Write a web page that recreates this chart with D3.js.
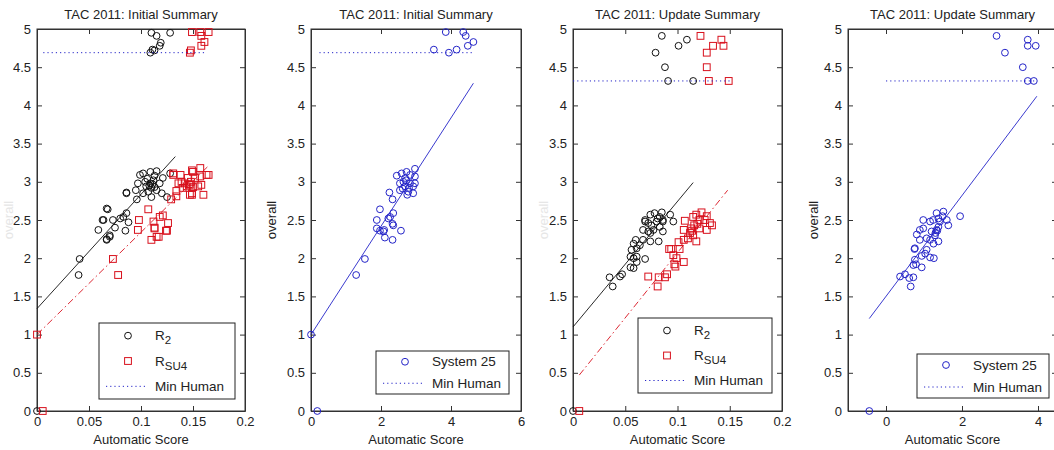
<!DOCTYPE html>
<html>
<head>
<meta charset="utf-8">
<script src="https://cdn.jsdelivr.net/npm/d3@7"></script>
<style>
  body { margin: 0; background: #fff; }
  svg text { font-family: "Liberation Sans", Arial, sans-serif; fill: #222; }
</style>
</head>
<body>
<svg id="chart" width="1054" height="450"></svg>
<script>
// ---- data ----
const yTicks = [0, 0.5, 1, 1.5, 2, 2.5, 3, 3.5, 4, 4.5, 5];

// initial summary, ROUGE-2 vs overall
const init_r2 = [
  [0, 0], [0.041, 1.99], [0.040, 1.78], [0.059, 2.37], [0.064, 2.50], [0.068, 2.64], [0.067, 2.25],
  [0.070, 2.30], [0.073, 2.50], [0.075, 2.40], [0.080, 2.52], [0.083, 2.54], [0.086, 2.59],
  [0.088, 2.47], [0.085, 2.36], [0.067, 2.24], [0.070, 2.28], [0.063, 2.50], [0.067, 2.65],
  [0.086, 2.86], [0.096, 2.77], [0.095, 2.89], [0.099, 3.09], [0.102, 3.11], [0.109, 3.13],
  [0.115, 3.14], [0.097, 2.98], [0.104, 3.00], [0.105, 2.94], [0.109, 2.98], [0.112, 3.02],
  [0.110, 2.92], [0.115, 2.89], [0.118, 2.98], [0.107, 2.87], [0.102, 2.85], [0.121, 3.05],
  [0.128, 3.11], [0.125, 2.80], [0.120, 2.85], [0.110, 2.80], [0.086, 2.85], [0.108, 2.95],
  [0.111, 2.97], [0.113, 2.93], [0.106, 3.04], [0.113, 3.08],
  [0.110, 4.95], [0.115, 4.91], [0.128, 4.95], [0.119, 4.82], [0.118, 4.78], [0.111, 4.73],
  [0.109, 4.69], [0.113, 4.72]
];
// initial summary, ROUGE-SU4 vs overall
const init_rsu4 = [
  [0.0055, 0], [0, 1.0], [0.073, 1.99], [0.078, 1.78], [0.097, 2.37], [0.110, 2.24], [0.115, 2.28],
  [0.124, 2.36], [0.113, 2.40], [0.107, 2.64], [0.098, 2.50], [0.112, 2.48], [0.118, 2.54],
  [0.121, 2.56], [0.126, 2.46], [0.113, 2.39], [0.125, 2.36], [0.117, 2.28],
  [0.129, 2.77], [0.134, 2.88], [0.131, 3.09], [0.138, 3.09], [0.139, 3.00], [0.142, 2.98],
  [0.144, 2.94], [0.147, 2.96], [0.140, 2.92], [0.149, 2.85], [0.147, 2.83], [0.157, 3.18],
  [0.163, 3.09], [0.160, 2.83], [0.150, 3.13], [0.152, 3.05], [0.145, 3.05], [0.157, 3.07],
  [0.155, 2.94], [0.136, 2.98], [0.134, 2.81], [0.165, 3.09], [0.149, 3.15], [0.131, 3.11],
  [0.158, 2.96], [0.149, 2.83], [0.146, 2.97], [0.148, 3.00], [0.150, 2.93],
  [0.149, 4.96], [0.157, 4.96], [0.165, 4.96], [0.158, 4.91], [0.161, 4.83], [0.158, 4.78],
  [0.148, 4.72], [0.147, 4.69]
];
// initial summary, system 25 score vs overall
const init_s25 = [
  [0, 1.0], [0.18, 0], [1.29, 1.78], [1.54, 1.99], [1.88, 2.39], [1.97, 2.36], [2.09, 2.37],
  [2.11, 2.27], [2.33, 2.24], [2.57, 2.36], [2.35, 2.43], [1.88, 2.50], [1.97, 2.64],
  [2.21, 2.52], [2.26, 2.54], [2.35, 2.59], [2.33, 2.45], [2.07, 2.35], [2.24, 2.86],
  [2.33, 2.77], [2.45, 3.08], [2.59, 3.11], [2.73, 3.13], [2.97, 3.17], [2.54, 2.98],
  [2.64, 3.00], [2.54, 2.89], [2.69, 2.94], [2.83, 2.98], [2.92, 2.94], [2.78, 2.87],
  [2.92, 2.85], [2.97, 2.98], [2.97, 3.07], [2.83, 3.09], [2.69, 3.05], [2.75, 2.83],
  [2.80, 2.92], [2.72, 3.02], [2.62, 2.91],
  [3.51, 4.73], [3.85, 4.96], [3.94, 4.69], [4.16, 4.73], [4.35, 4.96], [4.42, 4.91],
  [4.48, 4.78], [4.64, 4.83]
];

// update summary, ROUGE-2 vs overall
const upd_r2 = [
  [0, 0], [0.035, 1.75], [0.038, 1.63], [0.045, 1.76], [0.047, 1.79], [0.055, 1.88], [0.058, 1.87],
  [0.055, 2.02], [0.056, 2.11], [0.058, 2.19], [0.061, 2.13], [0.061, 1.95], [0.069, 1.99],
  [0.067, 2.24], [0.060, 2.24], [0.072, 2.35], [0.069, 2.48], [0.074, 2.57], [0.078, 2.59],
  [0.083, 2.54], [0.086, 2.48], [0.072, 2.46], [0.075, 2.43], [0.077, 2.37], [0.074, 2.33],
  [0.083, 2.41], [0.086, 2.35], [0.082, 2.22], [0.074, 2.22], [0.067, 2.37], [0.080, 2.48],
  [0.069, 2.50], [0.085, 2.60], [0.081, 2.52], [0.093, 2.57], [0.096, 2.48], [0.086, 2.50],
  [0.064, 2.17], [0.061, 2.02], [0.058, 2.00],
  [0.079, 4.69], [0.085, 4.91], [0.088, 4.50], [0.091, 4.32], [0.101, 4.78], [0.109, 4.86],
  [0.115, 4.32]
];
// update summary, ROUGE-SU4 vs overall
const upd_rsu4 = [
  [0.006, 0], [0.072, 1.76], [0.082, 1.75], [0.081, 1.63], [0.088, 1.75], [0.090, 1.79],
  [0.092, 2.12], [0.094, 2.12], [0.097, 1.92], [0.098, 1.89], [0.099, 2.00], [0.101, 2.21],
  [0.102, 2.12], [0.106, 2.24], [0.106, 1.95], [0.106, 2.37], [0.110, 2.26], [0.112, 2.33],
  [0.113, 2.39], [0.115, 2.30], [0.118, 2.22], [0.116, 2.43], [0.121, 2.39], [0.128, 2.37],
  [0.133, 2.43], [0.096, 2.04], [0.107, 2.49], [0.115, 2.54], [0.118, 2.57], [0.123, 2.60],
  [0.128, 2.55], [0.126, 2.50], [0.131, 2.46], [0.121, 2.50], [0.114, 2.36], [0.119, 2.45],
  [0.122, 4.91], [0.128, 4.69], [0.128, 4.50], [0.130, 4.32], [0.134, 4.78], [0.142, 4.86],
  [0.144, 4.78], [0.149, 4.32]
];
// update summary, system 25 score vs overall
const upd_s25 = [
  [-0.44, 0], [0.37, 1.76], [0.50, 1.79], [0.61, 1.74], [0.65, 1.63], [0.72, 1.75], [0.72, 1.91],
  [0.76, 1.98], [0.79, 1.92], [0.94, 1.88], [0.75, 2.12], [0.76, 2.13], [0.89, 2.24],
  [0.81, 2.31], [0.94, 2.03], [1.03, 2.06], [1.07, 2.11], [1.16, 2.01], [1.26, 2.00],
  [1.07, 2.26], [1.16, 2.24], [1.25, 2.19], [1.38, 2.22], [1.29, 2.30], [1.20, 2.35],
  [1.33, 2.37], [1.38, 2.41], [0.89, 2.37], [0.98, 2.39], [1.64, 2.43], [0.98, 2.50],
  [1.16, 2.48], [1.33, 2.59], [1.38, 2.52], [1.49, 2.55], [1.51, 2.61], [1.60, 2.50],
  [1.95, 2.55], [1.42, 2.48], [1.24, 2.50], [1.30, 2.33], [1.35, 2.36],
  [2.91, 4.91], [3.13, 4.69], [3.60, 4.50], [3.73, 4.86], [3.73, 4.78], [3.94, 4.78],
  [3.73, 4.32], [3.89, 4.32]
];

// least-squares fit lines, endpoints in data units
const fit_init_r2 = [[0, 1.34], [0.133, 3.33]];
const fit_init_rsu4 = [[0, 1.0], [0.165, 3.21]];
const fit_init_s25 = [[0, 1.0], [4.64, 4.29]];
const fit_upd_r2 = [[0, 1.10], [0.115, 2.99]];
const fit_upd_rsu4 = [[0.006, 0.47], [0.148, 2.89]];
const fit_upd_s25 = [[-0.44, 1.21], [3.97, 4.12]];

// lowest human overall score, and the x span of the dotted line
const minHuman = [4.69, 4.69, 4.32, 4.32];
const minHumanSpan = [[0.006, 0.161], [0.24, 4.64], [0, 0.15], [0, 3.92]];

const titles = ['TAC 2011: Initial Summary', 'TAC 2011: Initial Summary',
                'TAC 2011: Update Summary', 'TAC 2011: Update Summary'];
const xDomains = [[0, 0.2], [0, 6], [0, 0.2], [-1, 4.5]];
const xTickVals = [[0, 0.05, 0.1, 0.15, 0.2], [0, 2, 4, 6], [0, 0.05, 0.1, 0.15, 0.2], [0, 2, 4]];

// ---- layout ----
const RED = '#d8101c', BLUE = '#2424c8', BLACK = '#111';
const plotTop = 29, plotBottom = 411;
const panels = [
  {left: 37, right: 245, ylab: 8, ylabColor: '#e6e6e6',
   series: [{data: init_r2, shape: 'circle', color: BLACK, label: ['R', '2']},
            {data: init_rsu4, shape: 'square', color: RED, label: ['R', 'SU4']}],
   fits: [{pts: fit_init_r2, color: BLACK, dash: null}, {pts: fit_init_rsu4, color: RED, dash: '7,3,1.5,3'}],
   legend: {x: 99, y: 323, w: 136, h: 76}},
  {left: 311, right: 521, ylab: 271, ylabColor: '#222',
   series: [{data: init_s25, shape: 'circle', color: BLUE, label: ['System 25']}],
   fits: [{pts: fit_init_s25, color: BLUE, dash: null}],
   legend: {x: 376, y: 351, w: 133, h: 43}},
  {left: 573, right: 782, ylab: 543, ylabColor: '#e6e6e6',
   series: [{data: upd_r2, shape: 'circle', color: BLACK, label: ['R', '2']},
            {data: upd_rsu4, shape: 'square', color: RED, label: ['R', 'SU4']}],
   fits: [{pts: fit_upd_r2, color: BLACK, dash: null}, {pts: fit_upd_rsu4, color: RED, dash: '7,3,1.5,3'}],
   legend: {x: 638, y: 318, w: 134, h: 75}},
  {left: 848, right: 1057, ylab: 813, ylabColor: '#222',
   series: [{data: upd_s25, shape: 'circle', color: BLUE, label: ['System 25']}],
   fits: [{pts: fit_upd_s25, color: BLUE, dash: null}],
   legend: {x: 917, y: 354, w: 132, h: 44}}
];

const svg = d3.select('#chart');
svg.append('rect').attr('width', 1054).attr('height', 450).attr('fill', '#fff');

const drawMarker = (g, shape, color, x, y) => {
  if (shape === 'circle') {
    g.append('circle').attr('cx', x).attr('cy', y).attr('r', 3.4)
      .attr('fill', 'none').attr('stroke', color).attr('stroke-width', 1);
  } else {
    g.append('rect').attr('x', x - 3.4).attr('y', y - 3.4).attr('width', 6.8).attr('height', 6.8)
      .attr('fill', 'none').attr('stroke', color).attr('stroke-width', 1);
  }
};

panels.forEach((p, i) => {
  const x = d3.scaleLinear().domain(xDomains[i]).range([p.left, p.right]);
  const y = d3.scaleLinear().domain([0, 5]).range([plotBottom, plotTop]);
  const g = svg.append('g');

  // axes (MATLAB style box, ticks inward on all sides)
  const tickLen = 5;
  g.append('g').attr('transform', `translate(0,${plotBottom})`)
    .call(d3.axisBottom(x).tickValues(xTickVals[i]).tickSizeInner(-tickLen).tickSizeOuter(0)
      .tickPadding(6).tickFormat(d => String(d)));
  g.append('g').attr('transform', `translate(0,${plotTop})`)
    .call(d3.axisTop(x).tickValues(xTickVals[i]).tickSizeInner(-tickLen).tickSizeOuter(0).tickFormat(''));
  g.append('g').attr('transform', `translate(${p.left},0)`)
    .call(d3.axisLeft(y).tickValues(yTicks).tickSizeInner(-tickLen).tickSizeOuter(0)
      .tickPadding(6).tickFormat(d => String(d)));
  g.append('g').attr('transform', `translate(${p.right},0)`)
    .call(d3.axisRight(y).tickValues(yTicks).tickSizeInner(-tickLen).tickSizeOuter(0).tickFormat(''));
  g.selectAll('.domain, .tick line').attr('stroke', '#333');
  g.selectAll('.tick text').attr('font-size', 13).attr('fill', '#222')
    .style('font-family', '"Liberation Sans", Arial, sans-serif');
  g.append('rect').attr('x', p.left).attr('y', plotTop)
    .attr('width', p.right - p.left).attr('height', plotBottom - plotTop)
    .attr('fill', 'none').attr('stroke', '#333');

  // title and labels
  g.append('text').attr('x', (p.left + p.right) / 2).attr('y', 19)
    .attr('text-anchor', 'middle').attr('font-size', 13).text(titles[i]);
  g.append('text').attr('x', (p.left + p.right) / 2).attr('y', 444)
    .attr('text-anchor', 'middle').attr('font-size', 13).text('Automatic Score');
  g.append('text').attr('transform', `translate(${p.ylab},220) rotate(-90)`)
    .attr('text-anchor', 'middle').attr('dy', '0.35em').attr('font-size', 13)
    .style('fill', p.ylabColor).text('overall');

  // points
  const pts = g.append('g');
  p.series.forEach(s => {
    s.data.forEach(d => drawMarker(pts, s.shape, s.color, x(d[0]), y(d[1])));
  });

  // fit lines
  const line = d3.line().x(d => x(d[0])).y(d => y(d[1]));
  p.fits.forEach(f => {
    g.append('path').attr('d', line(f.pts)).attr('fill', 'none')
      .attr('stroke', f.color).attr('stroke-width', 0.9)
      .attr('stroke-dasharray', f.dash);
  });

  // min human dotted line
  g.append('path')
    .attr('d', line(minHumanSpan[i].map(v => [v, minHuman[i]])))
    .attr('fill', 'none').attr('stroke', BLUE).attr('stroke-width', 1)
    .attr('stroke-dasharray', '1.2,3');

  // legend
  const L = p.legend;
  const lg = svg.append('g');
  lg.append('rect').attr('x', L.x).attr('y', L.y).attr('width', L.w).attr('height', L.h)
    .attr('fill', '#fff').attr('stroke', '#222');
  const entries = p.series.length + 1;
  const rowH = L.h / entries;
  p.series.forEach((s, k) => {
    const cy = L.y + rowH * (k + 0.5);
    drawMarker(lg, s.shape, s.color, L.x + 29, cy);
    const t = lg.append('text').attr('x', L.x + 56).attr('y', cy + 4.5).attr('font-size', 13.5);
    t.append('tspan').text(s.label[0]);
    if (s.label.length > 1) {
      t.append('tspan').attr('dy', 4).attr('font-size', 11.5).text(s.label[1]);
    }
  });
  const cy = L.y + rowH * (entries - 0.5);
  lg.append('line').attr('x1', L.x + 7).attr('x2', L.x + 47).attr('y1', cy).attr('y2', cy)
    .attr('stroke', BLUE).attr('stroke-dasharray', '1.2,3');
  lg.append('text').attr('x', L.x + 56).attr('y', cy + 4.5).attr('font-size', 13.5).text('Min Human');
});
</script>
</body>
</html>
